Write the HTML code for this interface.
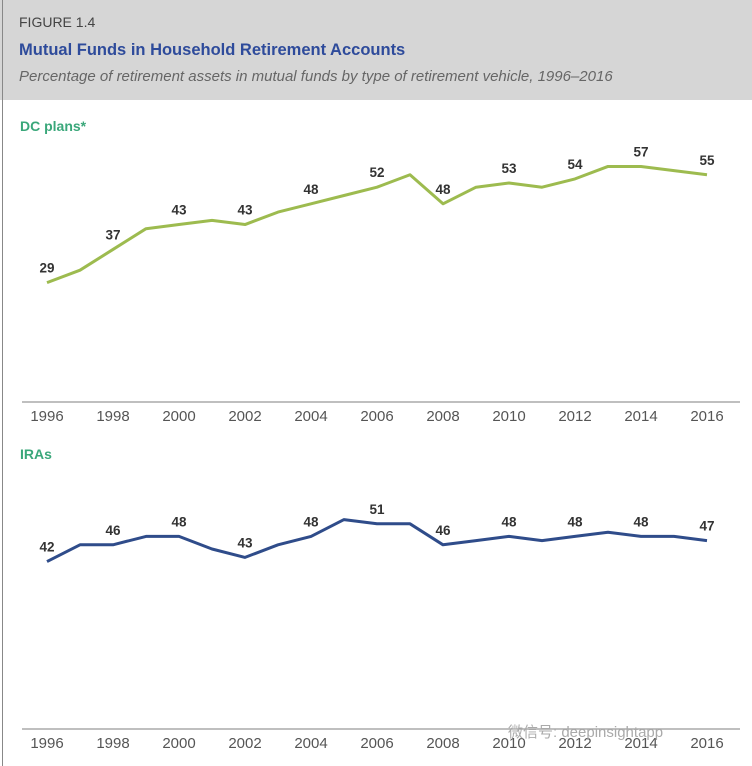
<!DOCTYPE html>
<html><head><meta charset="utf-8">
<style>
body{margin:0;width:752px;height:766px;background:#fff;font-family:"Liberation Sans Narrow","Liberation Sans",sans-serif;overflow:hidden;position:relative}
#hdr{position:absolute;left:0;top:0;width:752px;height:100px;background:#d6d6d6}
#border{position:absolute;left:2px;top:0;width:1px;height:766px;background:#888}
.t{position:absolute;white-space:nowrap}
svg{position:absolute;left:0;top:0}
</style></head><body>
<div id="hdr"></div>
<div id="border"></div>
<div class="t" style="left:19px;top:14px;font-size:14px;color:#444">FIGURE 1.4</div>
<div class="t" style="left:19px;top:41px;font-size:16.5px;font-weight:bold;color:#2e4b9b">Mutual Funds in Household Retirement Accounts</div>
<div class="t" style="left:19px;top:68px;font-size:15px;font-style:italic;color:#666">Percentage of retirement assets in mutual funds by type of retirement vehicle, 1996–2016</div>
<div class="t" style="left:20px;top:118px;font-size:14px;font-weight:bold;color:#3aa77a">DC plans*</div>
<div class="t" style="left:20px;top:446px;font-size:14px;font-weight:bold;color:#3aa77a">IRAs</div>
<svg id="chart" width="752" height="766"></svg>
<div class="t" style="left:508px;top:721px;font-size:15px;color:#aaa;font-family:'Liberation Sans','Noto Sans CJK SC',sans-serif">微信号: deepinsightapp</div>
<script>
const years=[1996,1997,1998,1999,2000,2001,2002,2003,2004,2005,2006,2007,2008,2009,2010,2011,2012,2013,2014,2015,2016];
const dcValues=[29,32,37,42,43,44,43,46,48,50,52,55,48,52,53,52,54,57,57,56,55];
const iraValues=[42,46,46,48,48,45,43,46,48,52,51,51,46,47,48,47,48,49,48,48,47];
const tickYears=[1996,1998,2000,2002,2004,2006,2008,2010,2012,2014,2016];
const dcLabels=[[1996,29],[1998,37],[2000,43],[2002,43],[2004,48],[2006,52],[2008,48],[2010,53],[2012,54],[2014,57],[2016,55]];
const iraLabels=[[1996,42],[1998,46],[2000,48],[2002,43],[2004,48],[2006,51],[2008,46],[2010,48],[2012,48],[2014,48],[2016,47]];
const NS='http://www.w3.org/2000/svg';
const svg=document.getElementById('chart');
function x(yr){return 47+(yr-1996)*33;}
function yDC(v){return 403-v*4.15;}
function yIRA(v){return 738-v*4.2;}
function mk(tag,attrs){const e=document.createElementNS(NS,tag);for(const k in attrs)e.setAttribute(k,attrs[k]);svg.appendChild(e);return e;}
function panel(vals,yf,labels,axisY,color,name){
  const ax=mk('line',{x1:22,x2:740,y1:axisY,y2:axisY,stroke:'#999','stroke-width':1.2});
  
  
  tickYears.forEach(yr=>{
    const t=mk('text',{x:x(yr),y:axisY+19,'text-anchor':'middle','font-size':15,fill:'#555'});
    t.textContent=yr;
    
    
  });
  const pts=vals.map((v,i)=>x(years[i])+','+yf(v)).join(' ');
  const pl=mk('polyline',{points:pts,fill:'none',stroke:color,'stroke-width':3,'stroke-linejoin':'round'});
  
  
  labels.forEach(([yr,v])=>{
    const t=mk('text',{x:x(yr),y:yf(v)-10,'text-anchor':'middle','font-size':13.5,'font-weight':'bold',fill:'#333'});
    t.textContent=v;
    
    
  });
}
panel(dcValues,yDC,dcLabels,402,'#9dbb4f','dc');
panel(iraValues,yIRA,iraLabels,729,'#2f4c8a','ira');
</script>
</body></html>
